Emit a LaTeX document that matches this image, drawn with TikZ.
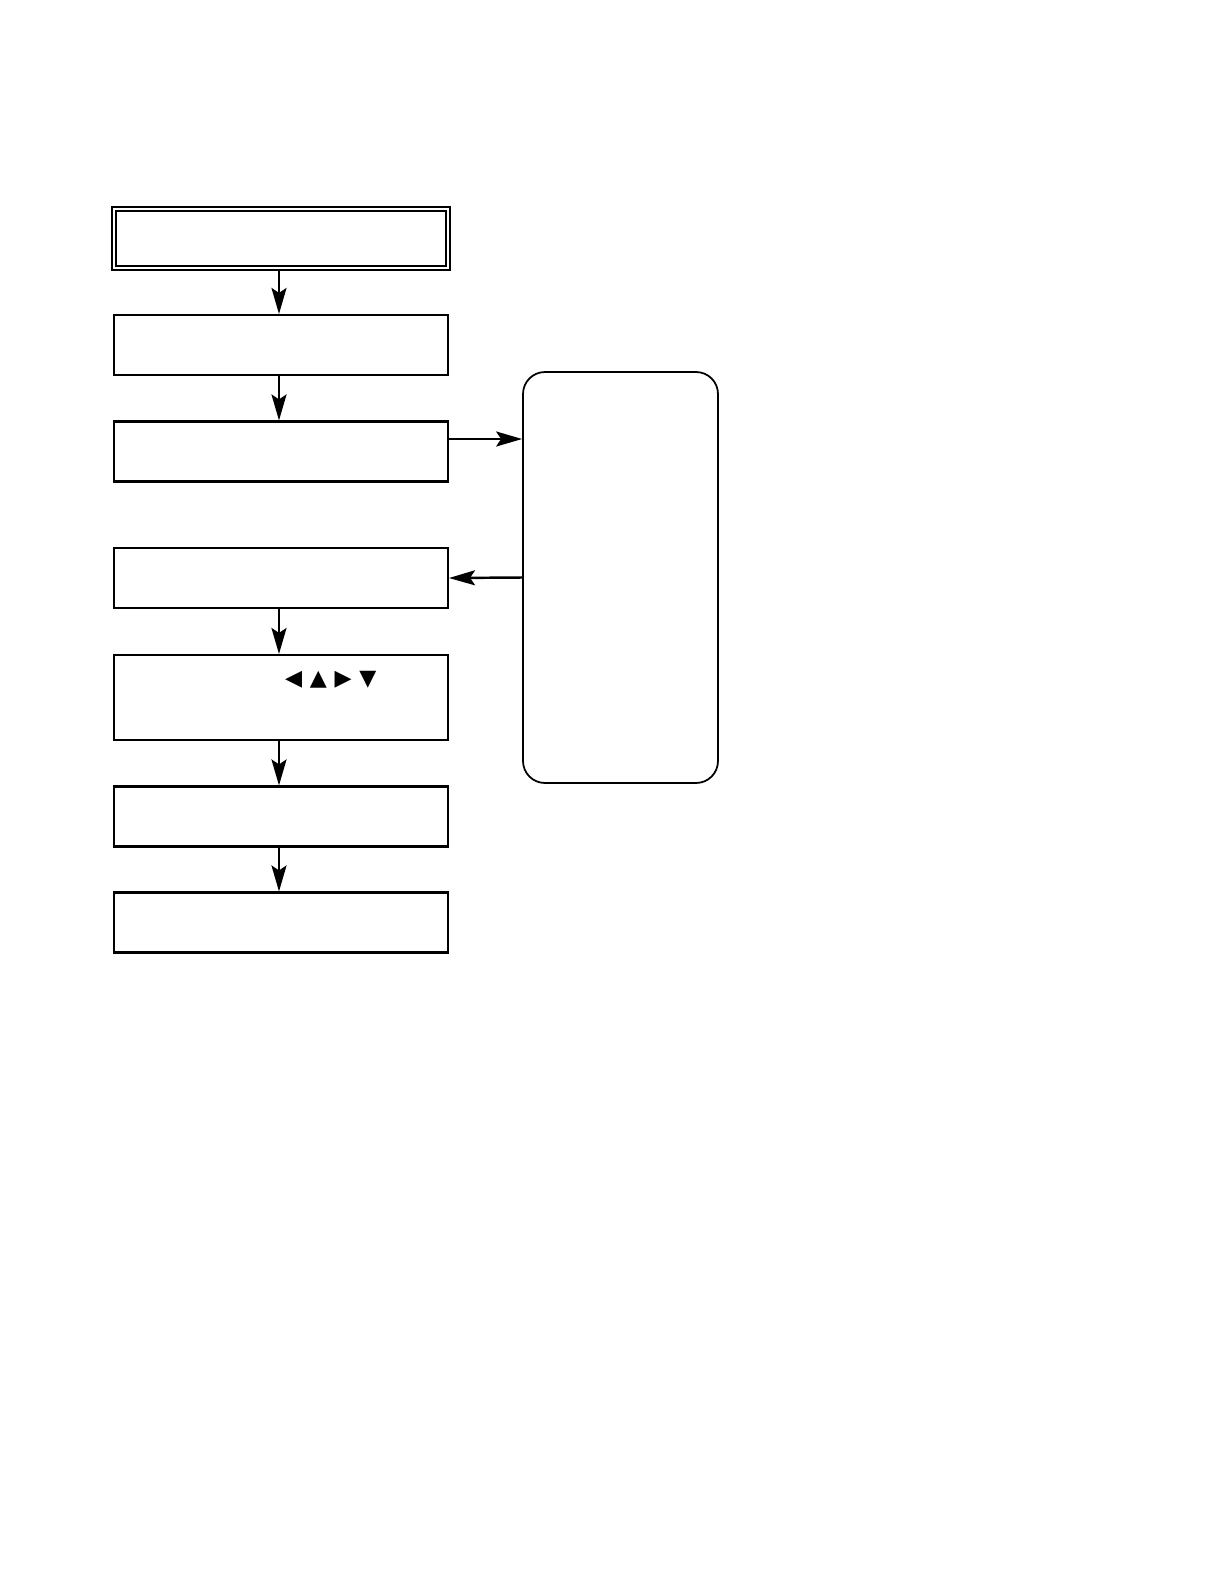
\documentclass[tikz,border=0pt]{standalone}
\usepackage{fontspec}
\newfontfamily\symfont{DejaVu Sans}
\usetikzlibrary{arrows.meta}

\begin{document}
\begin{tikzpicture}[x=0.1mm,y=-0.1mm,
  every node/.style={rectangle,draw,line width=0.6pt,minimum width=33.4mm,minimum height=6mm,inner sep=0pt},
  flow/.style={-{Stealth[length=2.6mm,width=1.5mm,inset=0.5mm]},line width=0.7pt}]
  \useasboundingbox (0,0) rectangle (1218,1586);

  \node[double,line width=0.45pt,double distance=0.55pt,minimum height=5.9mm] (1) at (281,238.5) {};
  \node (2) at (281,345) {};
  \node (3) at (281,451.5) {};
  \node (4) at (281,578) {};
  \node[minimum height=8.5mm] (5) at (281,697.5) {};
  \node (6) at (281,816.5) {};
  \node (7) at (281,922.5) {};

  \node[rounded corners=2.2mm,line width=0.5pt,minimum width=19.5mm,minimum height=41.1mm] (r) at (620.5,577.5) {};

  \node[draw=none,minimum width=0pt,minimum height=0pt,anchor=west] (5k) at (284,680) {\symfont\fontsize{6.3}{7}\selectfont ◀\hspace{2.2pt}▲\hspace{2.2pt}▶\hspace{2.2pt}▼};

  \foreach \a/\b in {1/2,2/3,4/5,5/6,6/7}
    \draw[flow] ([xshift=-0.2mm]\a.south) -- ([xshift=-0.2mm]\b.north);

  \draw[flow] ([yshift=1.25mm]3.east) -- ([yshift=1.25mm]3.east -| r.west);
  \draw[flow] (r.west) -- (4.east);
\end{tikzpicture}
\end{document}
